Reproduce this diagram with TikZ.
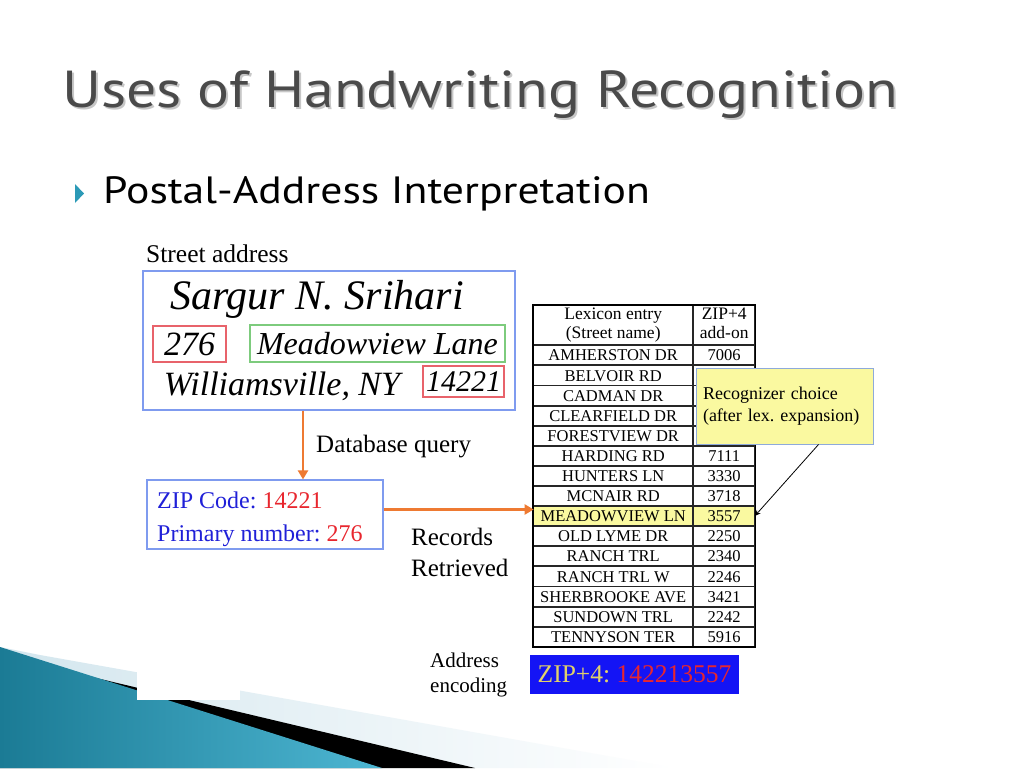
\documentclass[tikz,border=0pt]{standalone}
\usepackage{fontspec}
\setmainfont{Liberation Serif}
\newfontfamily\titlefont[FakeStretch=1.15]{PT Sans}
\usetikzlibrary{arrows.meta,positioning,calc}
\definecolor{titlegray}{HTML}{4A4A4A}
\definecolor{bullteal}{HTML}{2C9AB7}
\definecolor{addrblue}{HTML}{7F9BEF}
\definecolor{boxred}{HTML}{E8636B}
\definecolor{boxgreen}{HTML}{7DCB7D}
\definecolor{flowor}{HTML}{EE7A32}
\definecolor{zipblue}{HTML}{2020D8}
\definecolor{zipred}{HTML}{E8262E}
\definecolor{hlyellow}{HTML}{FAF9A0}
\definecolor{callborder}{HTML}{8EAADB}
\definecolor{encblue}{HTML}{1414F5}
\definecolor{encyellow}{HTML}{E2D26A}
\definecolor{lightstrip}{HTML}{D3E6EE}
\definecolor{tealdark}{HTML}{1B7B95}
\definecolor{teallight}{HTML}{4DB6D2}

\begin{document}
\frenchspacing
\begin{tikzpicture}[x=1pt,y=-1pt,
  txt/.style={inner sep=0pt},
  hand/.style={inner sep=0pt,font=\itshape\fontsize{34}{36}\selectfont},
  markbox/.style={draw,line width=1.2pt,inner sep=0pt},
  cell/.style={draw=black!85,line width=0.9pt,inner sep=0pt,outer sep=0pt,anchor=center,minimum height=19.2pt,text height=11.3pt,text depth=0pt,font=\fontsize{16.5}{19}\selectfont},
  namecell/.style={cell,minimum width=159.1pt},
  zipcell/.style={cell,minimum width=61.1pt},
  headcell/.style={minimum height=39.1pt,text height=,text depth=,align=center,font=\fontsize{17.5}{19}\selectfont},
  flow/.style={draw=flowor,line width=2.4pt,-{Triangle[length=9pt,width=10pt]}},
  pointer/.style={draw=black,line width=0.8pt,-{Stealth[length=6pt,width=5pt]}}]
\fill[white] (0,0) rectangle (1024,768);
\useasboundingbox (0,0) rectangle (1024,768);

% corner swoosh
\shade[left color=lightstrip,right color=white] (40,655) -- (675,768) -- (0,768) -- (0,647) -- cycle;
\fill[black] (50,667) -- (475,768) -- (0,768) -- (0,660) -- cycle;
\shade[left color=tealdark,right color=teallight] (0,647) -- (382,768) -- (0,768) -- cycle;
\fill[white] (137,640) rectangle (240,700);

% title and bullet
\node[txt,anchor=base west,font=\titlefont\fontsize{52}{60}\selectfont,text=black!22] (titleshadow) at (64,109) {Uses of Handwriting Recognition};
\node[txt,anchor=base west,font=\titlefont\fontsize{52}{60}\selectfont,text=titlegray] (title) at (62,107) {Uses of Handwriting Recognition};
\fill[bullteal] (75,184) -- (84,193.5) -- (75,203) -- cycle;
\node[txt,anchor=base west,font=\titlefont\fontsize{38}{44}\selectfont] (bullet) at (103,203) {Postal-Address Interpretation};

% street address
\node[txt,anchor=base west,font=\fontsize{25.5}{30}\selectfont] (streetlbl) at (146,262) {Street address};
\node[draw=addrblue,line width=1.2pt,minimum width=372pt,minimum height=139pt] (addr) at (329,340.5) {};
\node[hand,font=\itshape\fontsize{42}{44}\selectfont] (name) at (317,299) {Sargur N. Srihari};
\node[markbox,draw=boxred,minimum width=73pt,minimum height=36pt,font=\itshape\fontsize{34}{36}\selectfont] (num) at (189.5,344) {276};
\node[markbox,draw=boxgreen,minimum width=255pt,minimum height=37pt,font=\itshape\fontsize{32}{34}\selectfont] (street) at (377.5,343.5) {Meadowview Lane};
\node[hand] (city) at (282,386) {Williamsville, NY};
\node[markbox,draw=boxred,minimum width=81pt,minimum height=31pt,font=\itshape\fontsize{30}{32}\selectfont] (zip) at (463.5,381.5) {14221};

% query
\node[txt,anchor=base west,font=\fontsize{25}{30}\selectfont] (querylbl) at (316,452) {Database query};
\node[draw=addrblue,line width=1.2pt,minimum width=236pt,minimum height=69pt] (zipbox) at (265,514.5) {};
\node[txt,anchor=base west,font=\fontsize{24}{30}\selectfont] (zipline) at (157,508) {\textcolor{zipblue}{ZIP Code:} \textcolor{zipred}{14221}};
\node[txt,anchor=base west,font=\fontsize{24}{30}\selectfont] (numline) at (157,541) {\textcolor{zipblue}{Primary number:} \textcolor{zipred}{276}};
\node[txt,anchor=base west,align=left,font=\fontsize{25}{31}\selectfont] (retrlbl) at (411,576) {Records\\Retrieved};

% lexicon table
\matrix[row sep=0pt,column sep=0pt,inner sep=0pt,anchor=north west] (tab) at (533,305)
{
\node[namecell,headcell] (n0) {Lexicon entry\strut\\(Street name)\strut}; \pgfmatrixnextcell \node[zipcell,headcell] (z0) {ZIP+4\strut\\add-on\strut};\\
\node[namecell] (n1) {AMHERSTON DR}; \pgfmatrixnextcell \node[zipcell] (z1) {7006};\\
\node[namecell] (n2) {BELVOIR RD}; \pgfmatrixnextcell \node[zipcell] (z2) {};\\
\node[namecell] (n3) {CADMAN DR}; \pgfmatrixnextcell \node[zipcell] (z3) {};\\
\node[namecell] (n4) {CLEARFIELD DR}; \pgfmatrixnextcell \node[zipcell] (z4) {};\\
\node[namecell] (n5) {FORESTVIEW DR}; \pgfmatrixnextcell \node[zipcell] (z5) {};\\
\node[namecell] (n6) {HARDING RD}; \pgfmatrixnextcell \node[zipcell] (z6) {7111};\\
\node[namecell] (n7) {HUNTERS LN}; \pgfmatrixnextcell \node[zipcell] (z7) {3330};\\
\node[namecell] (n8) {MCNAIR RD}; \pgfmatrixnextcell \node[zipcell] (z8) {3718};\\
\node[namecell,fill=hlyellow] (n9) {MEADOWVIEW LN}; \pgfmatrixnextcell \node[zipcell,fill=hlyellow] (z9) {3557};\\
\node[namecell] (n10) {OLD LYME DR}; \pgfmatrixnextcell \node[zipcell] (z10) {2250};\\
\node[namecell] (n11) {RANCH TRL}; \pgfmatrixnextcell \node[zipcell] (z11) {2340};\\
\node[namecell] (n12) {RANCH TRL W}; \pgfmatrixnextcell \node[zipcell] (z12) {2246};\\
\node[namecell] (n13) {SHERBROOKE AVE}; \pgfmatrixnextcell \node[zipcell] (z13) {3421};\\
\node[namecell] (n14) {SUNDOWN TRL}; \pgfmatrixnextcell \node[zipcell] (z14) {2242};\\
\node[namecell] (n15) {TENNYSON TER}; \pgfmatrixnextcell \node[zipcell] (z15) {5916};\\
};
\draw[line width=1.6pt] (tab.north west) rectangle (tab.south east);

% recognizer callout
\node[fill=hlyellow,draw=callborder,line width=1pt,minimum width=177pt,minimum height=76pt,inner xsep=7pt,text width=163pt,align=left,font=\fontsize{18}{22}\selectfont] (callout) at (784.5,406) {Recognizer choice\\(after lex. expansion)};

% address encoding
\node[txt,anchor=base west,align=left,font=\fontsize{21}{25}\selectfont] (enclbl) at (430,692) {Address\\encoding};
\node[fill=encblue,minimum width=209pt,minimum height=39pt,font=\fontsize{25.5}{30}\selectfont] (enc) at (634.5,674.5) {\textcolor{encyellow}{ZIP+4:} \textcolor{zipred}{142213557}};

% connectors
\draw[flow] ([xshift=-26pt]addr.south) -- ([xshift=38pt]zipbox.north);
\draw[flow] ([yshift=5pt]zipbox.east) -- ([yshift=5pt]zipbox.east -| n9.west);
\draw[pointer] ([xshift=-55pt]callout.south east) -- (z9.east);
\end{tikzpicture}
\end{document}
